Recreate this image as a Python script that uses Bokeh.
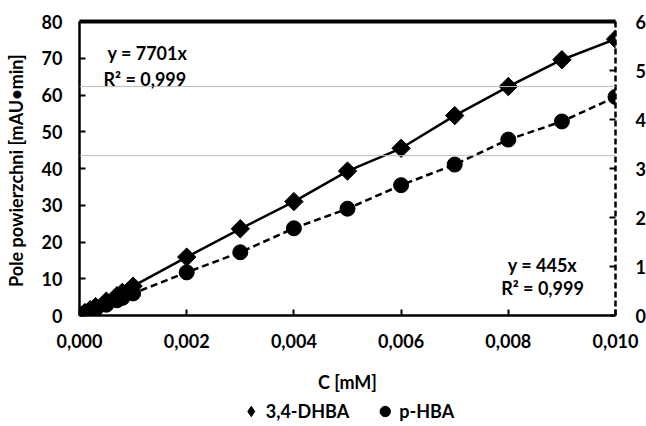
import math
from bokeh.plotting import figure
from bokeh.layouts import column
from bokeh.models import Range1d, LinearAxis, Legend, LegendItem, Label, Span, FixedTicker, CustomJSTickFormatter
from bokeh.embed import file_html
from bokeh.resources import INLINE

# Data
conc = [0.0, 0.0001, 0.0002, 0.0003, 0.0005, 0.0007, 0.0008, 0.001,
        0.002, 0.003, 0.004, 0.005, 0.006, 0.007, 0.008, 0.009, 0.010]
dhba = [0.0, 0.8, 1.6, 2.4, 3.9, 5.4, 6.3, 8.0,
        15.9, 23.6, 31.0, 39.3, 45.5, 54.4, 62.3, 69.6, 75.2]
phba = [0.0, 0.05, 0.09, 0.13, 0.22, 0.31, 0.36, 0.45,
        0.88, 1.29, 1.78, 2.18, 2.66, 3.08, 3.59, 3.96, 4.46]
x_ticks = [0.0, 0.002, 0.004, 0.006, 0.008, 0.010]
left_ticks = [0, 10, 20, 30, 40, 50, 60, 70, 80]
right_ticks = [0, 1, 2, 3, 4, 5, 6]
gridline_values = [43.5, 62.3]
series_names = ["3,4-DHBA", "p-HBA"]
eq_dhba = ["y = 7701x", "R² = 0,999"]
eq_phba = ["y = 445x", "R² = 0,999"]

FONT = "Lato"
FS = "18px"

p = figure(frame_width=536, frame_height=294, output_backend="svg", toolbar_location=None,
           x_range=Range1d(0, 0.010), y_range=Range1d(0, 80),
           min_border_left=79, min_border_right=31, min_border_top=21, min_border_bottom=76,
           background_fill_color="white", border_fill_color="white")
p.outline_line_color = None
p.xgrid.visible = False
p.ygrid.visible = False
p.extra_y_ranges = {"right": Range1d(0, 6)}

for v in gridline_values:
    p.add_layout(Span(location=v, dimension="width", line_color="#bdbdbd", line_width=1))

comma_fmt = CustomJSTickFormatter(code="return tick.toFixed(3).replace('.', ',');")

def style_axis(ax):
    ax.axis_line_color = "black"
    ax.axis_line_width = 2.5
    ax.major_tick_in = 6
    ax.major_tick_out = 0
    ax.major_tick_line_width = 2
    ax.minor_tick_line_color = None
    ax.major_label_text_font = FONT
    ax.major_label_text_font_style = "bold"
    ax.major_label_text_font_size = FS
    ax.major_label_text_color = "black"
    ax.axis_label_text_font = FONT
    ax.axis_label_text_font_style = "bold"
    ax.axis_label_text_font_size = FS
    ax.axis_label_text_color = "black"

xa = p.xaxis[0]
style_axis(xa)
xa.ticker = FixedTicker(ticks=x_ticks)
xa.formatter = comma_fmt
xa.axis_label = "C [mM]"
xa.major_label_standoff = 18
xa.axis_label_standoff = 20

ya = p.yaxis[0]
style_axis(ya)
ya.ticker = FixedTicker(ticks=left_ticks)
ya.axis_label = "Pole powierzchni  [mAU\u2022min]"
ya.major_label_standoff = 17
ya.axis_label_standoff = 12

ra = LinearAxis(y_range_name="right", ticker=FixedTicker(ticks=right_ticks))
style_axis(ra)
ra.axis_line_dash = "6 3"
ra.major_label_standoff = 20
p.add_layout(ra, "right")

ta = LinearAxis(ticker=FixedTicker(ticks=[]))
ta.axis_line_width = 4
ta.axis_line_color = "black"
ta.major_label_text_font_size = "0px"
ta.major_tick_line_color = None
ta.minor_tick_line_color = None
p.add_layout(ta, "above")

p.line(conc, dhba, line_color="black", line_width=2.5)
p.scatter(conc, dhba, marker="square", angle=math.pi / 4, size=13,
          fill_color="black", line_color="black")
p.line(conc, phba, line_color="black", line_width=2.5, line_dash="7 4", y_range_name="right")
p.scatter(conc, phba, marker="circle", size=15, fill_color="black", line_color="black",
          y_range_name="right")

def add_label(txt, x, y, align="left"):
    p.add_layout(Label(x=x, y=y, x_units="screen", y_units="screen", text=txt,
                       text_font=FONT, text_font_style="bold", text_font_size=FS,
                       text_color="black", text_align=align, text_baseline="middle"))

add_label(eq_dhba[0], 28, 263)
add_label(eq_dhba[1], 24, 237)
add_label(eq_phba[0], 463, 51, "center")
add_label(eq_phba[1], 463, 28, "center")

# Legend strip below the chart (its key renderers sit outside the strip's visible range)
q = figure(width=646, height=31, output_backend="svg", toolbar_location=None,
           x_axis_type=None, y_axis_type=None, min_border=0,
           x_range=Range1d(0, 1), y_range=Range1d(500, 501),
           background_fill_color="white", border_fill_color="white")
q.outline_line_color = None
q.xgrid.visible = False
q.ygrid.visible = False
k1 = q.scatter(conc, dhba, marker="diamond", size=13, fill_color="black", line_color="black")
k2 = q.scatter(conc, phba, marker="circle", size=15, fill_color="black", line_color="black")
legend = Legend(items=[LegendItem(label=series_names[0], renderers=[k1]),
                       LegendItem(label=series_names[1], renderers=[k2])],
                orientation="horizontal", location="center",
                label_text_font=FONT, label_text_font_style="bold", label_text_font_size=FS,
                label_text_color="black",
                glyph_width=26, glyph_height=26, spacing=22, padding=0, margin=0,
                border_line_color=None, background_fill_alpha=0,
                label_standoff=2, label_height=20)
q.add_layout(legend, "center")

open("out.html", "w").write(file_html(column(p, q, spacing=0), INLINE))
